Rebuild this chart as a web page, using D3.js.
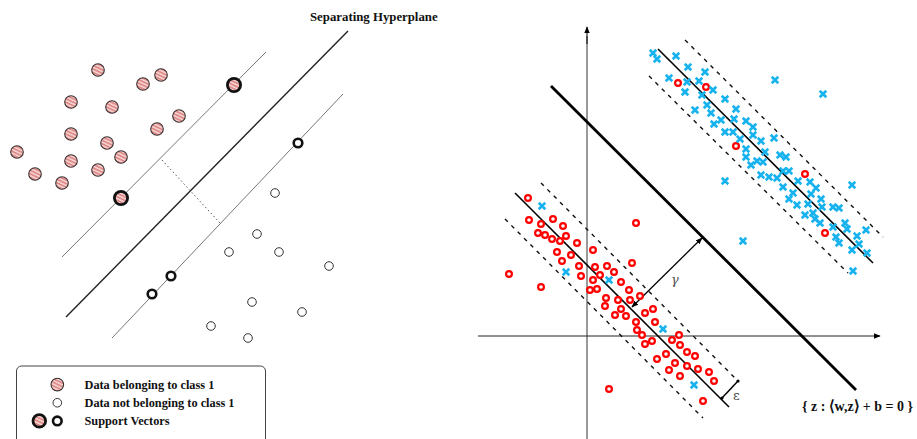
<!DOCTYPE html>
<html>
<head>
<meta charset="utf-8">
<script src="https://cdn.jsdelivr.net/npm/d3@7"></script>
<style>
  body { margin: 0; background: #fff; }
  svg { display: block; }
</style>
</head>
<body>
<div id="chart"></div>
<script>
// ---------- left panel: separable case ----------
const classIn = [[98,370],[143,356],[161,365],[71,338],[112,333],[179,324],[71,306],[157,311],
  [107,297],[17,288],[121,283],[71,279],[98,270],[35,266],[62,257]];
const classInSV = [[234,355],[121,242]];
const classOut = [[275,247],[257,206],[229,188],[279,188],[329,174],[252,138],[302,128],[211,114],[248,102]];
const classOutSV = [[298,297],[171,164],[152,146]];
const marginPlus = [[266,388],[62,183]];
const hyperLeft = [[348,409],[66,123]];
const marginMinus = [[343,346],[112,102]];
const marginGap = [[162,280],[220,217]];
const leftTitle = "Separating Hyperplane";
const legendLabels = ["Data belonging to class 1", "Data not belonging to class 1", "Support Vectors"];

// ---------- right panel: two bands, one hyperplane ----------
const redPts = [[-59,138],[-58,116],[-46,112],[-34,117],[-24,110],[-49,103],[-42,101],[-35,97],
  [-27,95],[-21,100],[-10,93],[49,113],[6,86],[-30,84],[-16,81],[-25,75],[45,73],[-8,70],[8,69],
  [20,70],[27,64],[-78,62],[-6,60],[13,61],[6,56],[34,54],[-46,49],[3,46],[10,47],[42,46],[53,40],
  [19,38],[31,36],[43,36],[18,30],[34,27],[66,27],[58,23],[28,21],[39,20],[49,14],[68,14],[50,6],
  [55,1],[92,1],[85,-4],[65,-5],[58,-8],[93,-9],[79,-18],[100,-16],[108,-20],[70,-23],[88,-27],
  [100,-30],[111,-33],[82,-34],[122,-36],[93,-40],[127,-45],[22,-53],[116,-65],
  [91,253],[119,249],[149,190],[218,162],[238,103]];
const bluePts = [[-45,130],[-21,64],[22,56],[76,7],[107,-49],
  [66,283],[70,277],[89,280],[101,269],[118,264],[82,258],[100,254],[112,255],[98,244],[126,246],
  [115,241],[188,256],[138,237],[236,242],[120,231],[149,227],[108,226],[124,223],[134,216],[147,217],
  [159,215],[127,212],[166,209],[138,204],[146,204],[166,201],[153,197],[174,195],[187,198],[159,187],
  [178,184],[159,179],[193,181],[199,179],[170,175],[176,174],[164,171],[196,165],[202,165],[174,161],
  [182,159],[190,158],[138,155],[211,155],[223,154],[265,151],[196,149],[229,148],[206,143],[224,142],
  [202,137],[234,137],[210,131],[221,132],[246,129],[235,129],[252,128],[226,123],[218,121],[228,117],
  [233,113],[258,113],[246,109],[260,107],[279,106],[249,99],[270,100],[252,93],[272,92],[265,86],
  [280,83],[156,95],[266,65]];
const hyperRight = [[-36,250],[269,-54]];
const bandCenters = [[[71,287],[286,73]], [[-72,143],[142,-71]]];
const bandEdges = [[[98,296],[296,99]], [[62,260],[261,63]], [[-46,153],[150,-44]], [[-82,117],[116,-82]]];
const gammaArrow = [[45,29],[115,98]];
const epsArrow = [[135,-62],[151,-45]];
const equation = "{ z : \u27E8w,z\u27E9 + b = 0 }";

const W = 917, H = 439;
const svg = d3.select('#chart').append('svg').attr('width', W).attr('height', H);
const defs = svg.append('defs');

const hatch = defs.append('pattern')
  .attr('id', 'hatch')
  .attr('patternUnits', 'userSpaceOnUse')
  .attr('width', 3.2).attr('height', 3.2)
  .attr('patternTransform', 'rotate(25)');
hatch.append('rect').attr('width', 3.2).attr('height', 3.2).attr('fill', '#f6d3d1');
hatch.append('rect').attr('width', 3.2).attr('height', 1.7).attr('fill', '#dd8a89');

defs.append('marker')
  .attr('id', 'arr')
  .attr('viewBox', '0 0 10 10')
  .attr('refX', 9).attr('refY', 5)
  .attr('markerWidth', 7).attr('markerHeight', 7)
  .attr('markerUnits', 'userSpaceOnUse')
  .attr('orient', 'auto-start-reverse')
  .append('path').attr('d', 'M0,1L10,5L0,9Z').attr('fill', '#000');

// ---------- left panel ----------
const xL = d3.scaleLinear().domain([0, 460]).range([0, 460]);
const yL = d3.scaleLinear().domain([0, 440]).range([440, 0]);
const lineL = d3.line().x(d => xL(d[0])).y(d => yL(d[1]));
const gL = svg.append('g');

gL.append('path').attr('d', lineL(marginPlus)).attr('stroke', '#777').attr('stroke-width', 1).attr('fill', 'none');
gL.append('path').attr('d', lineL(marginMinus)).attr('stroke', '#777').attr('stroke-width', 1).attr('fill', 'none');
gL.append('path').attr('d', lineL(hyperLeft)).attr('stroke', '#222').attr('stroke-width', 1.4).attr('fill', 'none');
gL.append('path').attr('d', lineL(marginGap)).attr('stroke', '#555').attr('stroke-width', 1)
  .attr('stroke-dasharray', '1.5,2.5').attr('fill', 'none');

gL.append('text')
  .attr('x', 310).attr('y', 21)
  .attr('font-family', 'Liberation Serif, Times New Roman, serif')
  .attr('font-weight', 'bold').attr('font-size', 12.8)
  .attr('fill', '#111')
  .text(leftTitle);

gL.selectAll('circle.in').data(classIn).join('circle').attr('class', 'in')
  .attr('cx', d => xL(d[0])).attr('cy', d => yL(d[1])).attr('r', 6.3)
  .attr('fill', 'url(#hatch)').attr('stroke', '#3a3030').attr('stroke-width', 1.1);
gL.selectAll('circle.insv').data(classInSV).join('circle').attr('class', 'insv')
  .attr('cx', d => xL(d[0])).attr('cy', d => yL(d[1])).attr('r', 6.6)
  .attr('fill', 'url(#hatch)').attr('stroke', '#111').attr('stroke-width', 2.8);
gL.selectAll('circle.out').data(classOut).join('circle').attr('class', 'out')
  .attr('cx', d => xL(d[0])).attr('cy', d => yL(d[1])).attr('r', 4.3)
  .attr('fill', '#fff').attr('stroke', '#333').attr('stroke-width', 1);
gL.selectAll('circle.outsv').data(classOutSV).join('circle').attr('class', 'outsv')
  .attr('cx', d => xL(d[0])).attr('cy', d => yL(d[1])).attr('r', 4.3)
  .attr('fill', '#fff').attr('stroke', '#111').attr('stroke-width', 2.6);

// legend
const lg = gL.append('g');
lg.append('rect').attr('x', 16.5).attr('y', 366).attr('width', 249).attr('height', 90).attr('rx', 5)
  .attr('fill', '#fff').attr('stroke', '#444').attr('stroke-width', 1);
const legRow = d3.scaleBand().domain(legendLabels).range([375.5, 430]);
lg.selectAll('text').data(legendLabels).join('text')
  .attr('x', 84.5).attr('y', d => legRow(d) + legRow.bandwidth() / 2 + 4)
  .attr('font-family', 'Liberation Serif, Times New Roman, serif')
  .attr('font-weight', 'bold').attr('font-size', 12.3).attr('fill', '#111')
  .text(d => d);
const cyRow = d => legRow(d) + legRow.bandwidth() / 2;
lg.append('circle').attr('cx', 57.3).attr('cy', cyRow(legendLabels[0])).attr('r', 6.3)
  .attr('fill', 'url(#hatch)').attr('stroke', '#3a3030').attr('stroke-width', 1.1);
lg.append('circle').attr('cx', 57.3).attr('cy', cyRow(legendLabels[1])).attr('r', 4.3)
  .attr('fill', '#fff').attr('stroke', '#333').attr('stroke-width', 1);
lg.append('circle').attr('cx', 39.3).attr('cy', cyRow(legendLabels[2])).attr('r', 6.3)
  .attr('fill', 'url(#hatch)').attr('stroke', '#111').attr('stroke-width', 2.8);
lg.append('circle').attr('cx', 57.3).attr('cy', cyRow(legendLabels[2])).attr('r', 4.3)
  .attr('fill', '#fff').attr('stroke', '#111').attr('stroke-width', 2.6);

// ---------- right panel ----------
const xR = d3.scaleLinear().domain([-110, 330]).range([477, 917]);
const yR = d3.scaleLinear().domain([-103, 336]).range([439, 0]);
const lineR = d3.line().x(d => xR(d[0])).y(d => yR(d[1]));
const gR = svg.append('g');

// axes
gR.append('line').attr('x1', xR(0)).attr('x2', xR(0)).attr('y1', yR(-103)).attr('y2', yR(300))
  .attr('stroke', '#999').attr('stroke-width', 2);
gR.append('path').attr('d', lineR([[0, 292], [0, 309]])).attr('stroke', '#000').attr('stroke-width', 1)
  .attr('marker-end', 'url(#arr)');
gR.append('path').attr('d', lineR([[-109, 0], [293, 0]])).attr('stroke', '#222').attr('stroke-width', 1)
  .attr('marker-end', 'url(#arr)');

gR.selectAll('path.edge').data(bandEdges).join('path').attr('class', 'edge')
  .attr('d', lineR).attr('fill', 'none').attr('stroke', '#111').attr('stroke-width', 1.4)
  .attr('stroke-dasharray', '4,5');
gR.selectAll('path.center').data(bandCenters).join('path').attr('class', 'center')
  .attr('d', lineR).attr('fill', 'none').attr('stroke', '#000').attr('stroke-width', 1.6);
gR.append('path').attr('d', lineR(hyperRight)).attr('fill', 'none').attr('stroke', '#000').attr('stroke-width', 2.8);

gR.append('path').attr('d', lineR(gammaArrow)).attr('stroke', '#000').attr('stroke-width', 1.3)
  .attr('marker-start', 'url(#arr)').attr('marker-end', 'url(#arr)');
gR.append('text').attr('x', xR(84)).attr('y', yR(52))
  .attr('font-family', 'DejaVu Serif, serif').attr('font-style', 'italic').attr('font-size', 13)
  .attr('fill', '#555').text('\u03B3');
gR.append('path').attr('d', lineR(epsArrow)).attr('stroke', '#000').attr('stroke-width', 1.5);
gR.selectAll('circle.tip').data(epsArrow).join('circle').attr('class', 'tip')
  .attr('cx', d => xR(d[0])).attr('cy', d => yR(d[1])).attr('r', 1.6).attr('fill', '#000');
gR.append('text').attr('x', xR(146)).attr('y', yR(-64))
  .attr('font-family', 'DejaVu Serif, serif').attr('font-size', 13)
  .attr('fill', '#444').text('\u03B5');

gR.selectAll('circle.red').data(redPts).join('circle').attr('class', 'red')
  .attr('cx', d => xR(d[0])).attr('cy', d => yR(d[1])).attr('r', 2.9)
  .attr('fill', '#fff').attr('stroke', '#f00').attr('stroke-width', 2.2);
const cross = d3.symbol(d3.symbolX, 30);
gR.selectAll('path.blue').data(bluePts).join('path').attr('class', 'blue')
  .attr('transform', d => `translate(${xR(d[0])},${yR(d[1])})`)
  .attr('d', cross).attr('fill', 'none').attr('stroke', '#18b2ee').attr('stroke-width', 2.6);

gR.append('text').attr('x', 802).attr('y', 411)
  .attr('font-family', 'Liberation Serif, Times New Roman, serif')
  .attr('font-weight', 'bold').attr('font-size', 14.5).attr('fill', '#111')
  .attr('textLength', 111).attr('lengthAdjust', 'spacingAndGlyphs')
  .text(equation);
</script>
</body>
</html>
